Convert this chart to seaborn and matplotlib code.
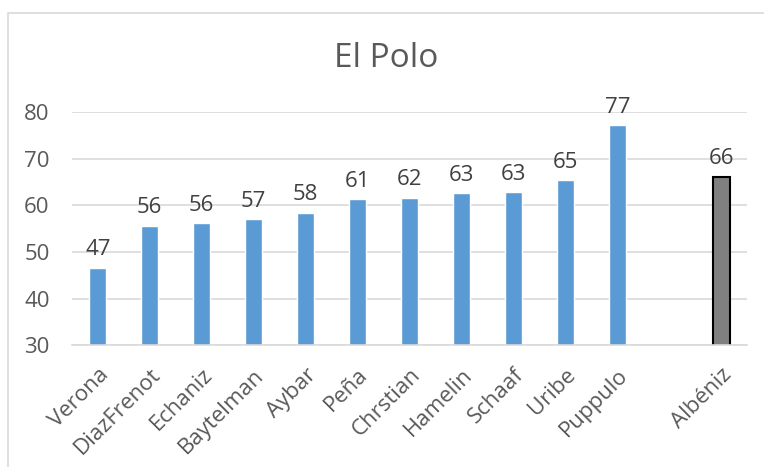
import numpy as np
import pandas as pd
import matplotlib
matplotlib.use("Agg")
import matplotlib.pyplot as plt
import seaborn as sns
from matplotlib.lines import Line2D

# data
players = ["Verona", "DiazFrenot", "Echaniz", "Baytelman", "Aybar", "Peña",
           "Chrstian", "Hamelin", "Schaaf", "Uribe", "Puppulo", "Albéniz"]
scores = [46.6, 55.6, 56.2, 57.0, 58.4, 61.3, 61.6, 62.6, 62.8, 65.4, 77.2, 66.1]
highlight = "Albéniz"

df = pd.DataFrame({"player": players, "score": scores})
order = players[:-1] + [" "] + [highlight]
palette = {p: "#5B9BD5" for p in players}
palette[highlight] = "#808080"

sns.set_theme(style="white")
plt.rcParams["font.family"] = ["Open Sans", "DejaVu Sans"]

fig = plt.figure(figsize=(7.64, 4.67), dpi=100)
ax = fig.add_axes([0.094, 0.261, 0.884, 0.499])

sns.barplot(data=df, x="player", y="score", hue="player", order=order,
            palette=palette, width=0.33, legend=False, ax=ax,
            saturation=1)
ax.set_ylim(30, 80)

# outline only the highlighted bar
for patch, name in zip(ax.patches, players):
    if name == highlight:
        patch.set_edgecolor("black")
        patch.set_linewidth(1.5)

ax.set_yticks(range(30, 81, 10))
ax.yaxis.grid(True, color="#D9D9D9", linewidth=1.2)
ax.set_axisbelow(True)
for s in ["top", "right", "left"]:
    ax.spines[s].set_visible(False)
ax.spines["bottom"].set_color("#D9D9D9")
ax.spines["bottom"].set_linewidth(1.2)
ax.tick_params(axis="y", length=0, labelsize=16, labelcolor="#595959", pad=16)
ax.tick_params(axis="x", length=0, labelsize=16, labelcolor="#595959", pad=14)
ax.set_xticks(range(len(order)))
ax.set_xticklabels(order, rotation=45, ha="right", rotation_mode="anchor")
ax.set_xlabel("")
ax.set_ylabel("")

for name, val in zip(players, scores):
    ax.text(order.index(name), val + 1.6, f"{round(val):d}", ha="center",
            va="bottom", fontsize=16, color="#404040", clip_on=False)

fig.text(0.505, 0.875, "El Polo", ha="center", va="center", fontsize=24,
         color="#595959")

# chart frame: only the left and top edges are visible (cropped screenshot)
fig.lines.append(Line2D([0.011, 0.011, 1.0], [0.0, 0.972, 0.972],
                        transform=fig.transFigure, color="#D9D9D9",
                        linewidth=1.2))

fig.savefig("out.png", dpi=100)
